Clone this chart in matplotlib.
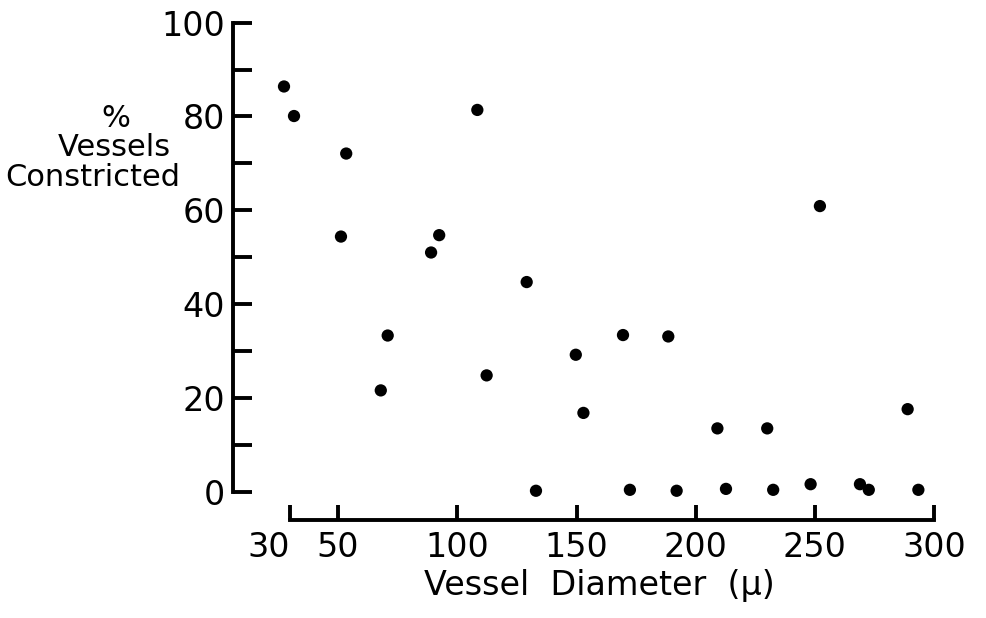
import matplotlib
matplotlib.use("Agg")
import matplotlib.pyplot as plt
from matplotlib.ticker import FixedLocator
from matplotlib.transforms import ScaledTranslation

# Data
diameter = [27.3, 31.5, 53.4, 51.2, 67.9, 70.8, 89.0, 92.4, 108.4, 112.3,
            129.1, 133.0, 149.7, 152.9, 172.4, 169.5, 188.5, 192.0, 209.1, 212.7,
            230.0, 232.5, 248.2, 252.1, 268.9, 272.6, 288.9, 293.4]
pct_constricted = [86.4, 80.1, 72.1, 54.4, 21.6, 33.3, 51.0, 54.7, 81.4, 24.8,
                   44.7, 0.2, 29.2, 16.8, 0.4, 33.4, 33.1, 0.2, 13.5, 0.6,
                   13.5, 0.4, 1.6, 60.9, 1.6, 0.4, 17.6, 0.4]
x_ticks = [30, 50, 100, 150, 200, 250, 300]
y_major = [0, 20, 40, 60, 80, 100]
y_minor = [10, 30, 50, 70, 90]

W, H = 987, 618
fig = plt.figure(figsize=(W / 100, H / 100), dpi=100)
ax = fig.add_axes([233 / W, 1 - 522 / H, 712 / W, 504 / H])

ax.scatter(diameter, pct_constricted, s=78, color="black", edgecolors="none", zorder=3)

ax.set_xlim(5.91, 304.57)
ax.set_ylim(-6.46, 101.0)

for s in ["top", "right"]:
    ax.spines[s].set_visible(False)
ax.spines["left"].set_bounds(0, 100)
ax.spines["bottom"].set_bounds(30, 300)
ax.spines["bottom"].set_position(("data", -6.03))
for s in ["left", "bottom"]:
    ax.spines[s].set_linewidth(2.8)
    ax.spines[s].set_capstyle("projecting")

ax.xaxis.set_major_locator(FixedLocator(x_ticks))
ax.set_xticklabels([str(v) for v in x_ticks])
ax.yaxis.set_major_locator(FixedLocator(y_major))
ax.yaxis.set_minor_locator(FixedLocator(y_minor))
ax.set_yticklabels([str(v) for v in y_major])

ax.tick_params(axis="y", which="both", direction="in", length=14, width=2.8,
               labelsize=24, pad=6)
ax.tick_params(axis="x", which="major", direction="in", length=11, width=2.8,
               labelsize=24, pad=8)

# the "30" label sits a little left of its tick in the original
lbl30 = ax.get_xticklabels()[0]
lbl30.set_transform(lbl30.get_transform() + ScaledTranslation(-16 / 72, 0, fig.dpi_scale_trans))

# Axis titles (placed in figure pixel coordinates)
fig.text(180 / W, 1 - 104 / H, "%     \nVessels \nConstricted", fontsize=22,
         ha="right", va="top", multialignment="right", linespacing=1.02)
fig.text(599 / W, 1 - 595 / H, "Vessel  Diameter  (μ)", fontsize=24,
         ha="center", va="baseline")

fig.savefig("out.png", dpi=100)
